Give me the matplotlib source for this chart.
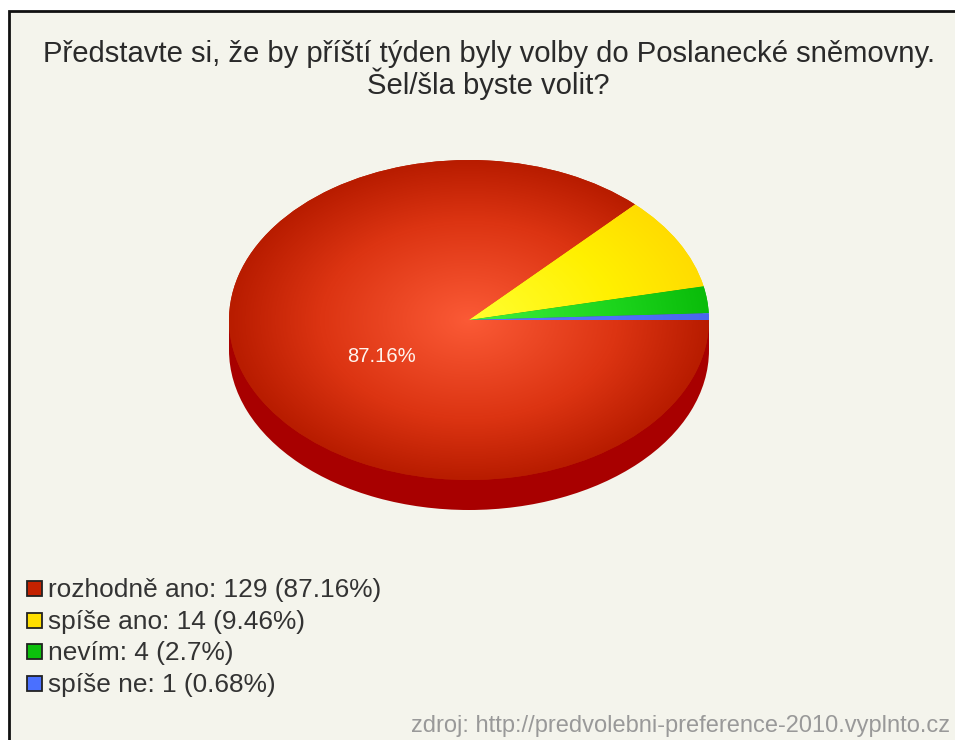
import numpy as np
import matplotlib
matplotlib.use('Agg')
import matplotlib.pyplot as plt
from matplotlib.colors import LinearSegmentedColormap
from matplotlib.patches import Rectangle

plt.rcParams['font.family'] = ['Liberation Sans', 'DejaVu Sans']

titulo = 'Představte si, že by příští týden byly volby do Poslanecké sněmovny.\nŠel/šla byste volit?'
categorias = ['rozhodně ano', 'spíše ano', 'nevím', 'spíše ne']
valores = [129, 14, 4, 1]
percentuais = ['87.16', '9.46', '2.7', '0.68']
cores_centro = ['#fb5a36', '#ffff30', '#40f040', '#5a78ff']
cores_meio = ['#dc3412', '#fff000', '#1cd41c', '#5070f8']
cores_borda = ['#b81c00', '#ffdc00', '#0abc0a', '#4a66ee']
cores_legenda = ['#c42200', '#ffdf00', '#0cc00c', '#4a70ff']
fonte = 'zdroj: http://predvolebni-preference-2010.vyplnto.cz'

W, H = 955, 740
fig = plt.figure(figsize=(W / 100, H / 100), dpi=100, facecolor='white')

# eixo de fundo em pixels
fundo = fig.add_axes([0, 0, 1, 1])
fundo.set_xlim(0, W)
fundo.set_ylim(H, 0)
fundo.axis('off')
fundo.add_patch(Rectangle((9, 11), W + 10, H, facecolor='#f4f4ec', edgecolor='#111111', linewidth=2.0))

fundo.text(488.5, 70, titulo, ha='center', va='center', fontsize=21.1, color='#2a2a2a', linespacing=0.95)


def eixo_pizza(topo):
    ax = fig.add_axes([229 / W, 1 - (topo + 320) / H, 480 / W, 320 / H])
    return ax


# lateral da pizza
fundo.add_patch(Rectangle((229, 319), 480, 30, facecolor='#a80000', edgecolor='none'))
ax_lado = eixo_pizza(190)
ax_lado.pie([1], colors=['#a80000'], radius=1)
ax_lado.set_aspect('auto')
ax_lado.set_xlim(-1, 1)
ax_lado.set_ylim(-1, 1)
ax_lado.patch.set_alpha(0)

# topo da pizza, com gradiente radial recortado em cada fatia
ax = eixo_pizza(160)
fatias, _ = ax.pie(valores, startangle=0, counterclock=False, radius=1,
                   wedgeprops={'linewidth': 0})
ax.set_aspect('auto')
ax.set_xlim(-1, 1)
ax.set_ylim(-1, 1)
ax.patch.set_alpha(0)

xx, yy = np.meshgrid(np.linspace(-1, 1, 480), np.linspace(-1, 1, 320))
raio = np.sqrt(xx ** 2 + yy ** 2)
for fatia, c0, c1, c2 in zip(fatias, cores_centro, cores_meio, cores_borda):
    mapa = LinearSegmentedColormap.from_list('g', [(0, c0), (0.62, c1), (1, c2)])
    img = ax.imshow(raio, extent=(-1, 1, -1, 1), origin='lower', cmap=mapa,
                    vmin=0, vmax=1, aspect='auto', zorder=3)
    img.set_clip_path(fatia)
    fatia.set_facecolor(c2)
ax.set_xlim(-1, 1)
ax.set_ylim(-1, 1)

fundo.set_zorder(0)
ax_lado.set_zorder(1)
ax.set_zorder(2)
ax.text(-88 / 240, -37 / 160, percentuais[0] + '%', ha='center', va='center',
        fontsize=14.6, color='#fff4ee', zorder=5)

# legenda
y_legenda = [589, 621, 652, 684]
for y, cat, v, p, cor in zip(y_legenda, categorias, valores, percentuais, cores_legenda):
    fundo.add_patch(Rectangle((27, y - 8), 15, 15, facecolor=cor, edgecolor='#222222', linewidth=1.3))
    fundo.text(48, y + 1, f'{cat}: {v} ({p}%)', ha='left', va='center', fontsize=18.9, color='#333333')

fundo.text(950, 726, fonte, ha='right', va='center', fontsize=17, color='#999999')

fig.savefig('out.png', dpi=100, facecolor='white')
